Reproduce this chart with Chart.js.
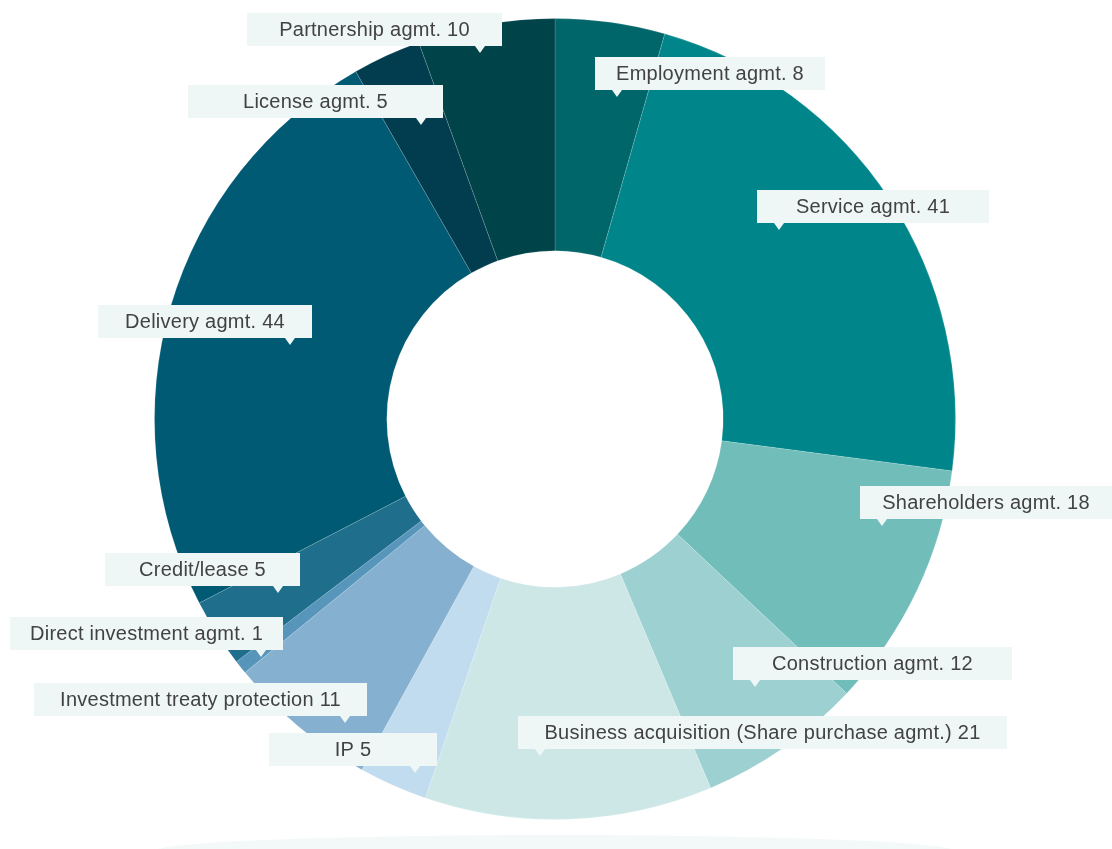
<!DOCTYPE html>
<html>
<head>
<meta charset="utf-8">
<script src="https://cdn.jsdelivr.net/npm/chart.js@4"></script>
<style>
  html, body { margin: 0; padding: 0; background: #fff; }
  #wrap { width: 1112px; height: 849px; position: relative; }
</style>
</head>
<body>
<div id="wrap"><canvas id="grafico"></canvas></div>
<script>
// ========== Dados ==========

const categorias = [
  'Employment agmt.',
  'Service agmt.',
  'Shareholders agmt.',
  'Construction agmt.',
  'Business acquisition (Share purchase agmt.)',
  'IP',
  'Investment treaty protection',
  'Direct investment agmt.',
  'Credit/lease',
  'Delivery agmt.',
  'License agmt.',
  'Partnership agmt.'
];

const casos = [8, 41, 18, 12, 21, 5, 11, 1, 5, 44, 5, 10];

const cores = [
  '#006669', '#00868a', '#70bdba', '#9dd0d1', '#cde7e7', '#c1dcee',
  '#85b0cf', '#5796ba', '#1f6e8c', '#005a73', '#013d4e', '#00444a'
];

// caixas dos rótulos: canto esquerdo, topo, largura, lado da setinha
const caixas = [
  { x: 595, y: 57,  w: 230, seta: 'esq' },
  { x: 757, y: 190, w: 232, seta: 'esq' },
  { x: 860, y: 486, w: 252, seta: 'esq' },
  { x: 733, y: 647, w: 279, seta: 'esq' },
  { x: 518, y: 716, w: 489, seta: 'esq' },
  { x: 269, y: 733, w: 168, seta: 'dir' },
  { x: 34,  y: 683, w: 333, seta: 'dir' },
  { x: 10,  y: 617, w: 273, seta: 'dir' },
  { x: 105, y: 553, w: 195, seta: 'dir' },
  { x: 98,  y: 305, w: 214, seta: 'dir' },
  { x: 188, y: 85,  w: 255, seta: 'dir' },
  { x: 247, y: 13,  w: 255, seta: 'dir' }
];

// ========== Plugins ==========

// sombra clarinha embaixo da rosca
const sombra = {
  id: 'sombra',
  beforeDraw(chart) {
    const c = chart.ctx;
    c.save();
    c.fillStyle = '#f3f9f9';
    c.beginPath();
    c.ellipse(555, 851, 400, 16, 0, 0, Math.PI * 2);
    c.fill();
    c.restore();
  }
};

const rotulos = {
  id: 'rotulos',
  afterDraw(chart) {
    const c = chart.ctx;
    const alt = 33;
    c.save();
    c.font = '20px "Liberation Sans", Arial, sans-serif';
    c.letterSpacing = '0.25px';
    c.textAlign = 'center';
    c.textBaseline = 'middle';
    caixas.forEach((b, i) => {
      c.fillStyle = '#eef7f6';
      c.fillRect(b.x, b.y, b.w, alt);
      const px = b.seta === 'esq' ? b.x + 22 : b.x + b.w - 22;
      c.beginPath();
      c.moveTo(px - 5, b.y + alt);
      c.lineTo(px + 5, b.y + alt);
      c.lineTo(px, b.y + alt + 7);
      c.closePath();
      c.fill();
      c.fillStyle = '#424242';
      c.fillText(`${categorias[i]} ${casos[i]}`, b.x + b.w / 2, b.y + alt / 2 + 1);
    });
    c.restore();
  }
};

// ========== Gráfico ==========

new Chart(document.getElementById('grafico'), {
  type: 'doughnut',
  data: {
    labels: categorias,
    datasets: [{
      data: casos,
      backgroundColor: cores,
      borderColor: 'rgba(255, 255, 255, 0.15)',
      borderWidth: 1
    }]
  },
  options: {
    responsive: true,
    maintainAspectRatio: false,
    animation: false,
    cutout: '42%',
    layout: { padding: { top: 18, bottom: 29, left: 0, right: 2 } },
    plugins: {
      legend: { display: false },
      tooltip: { enabled: false }
    }
  },
  plugins: [sombra, rotulos]
});
</script>
</body>
</html>
